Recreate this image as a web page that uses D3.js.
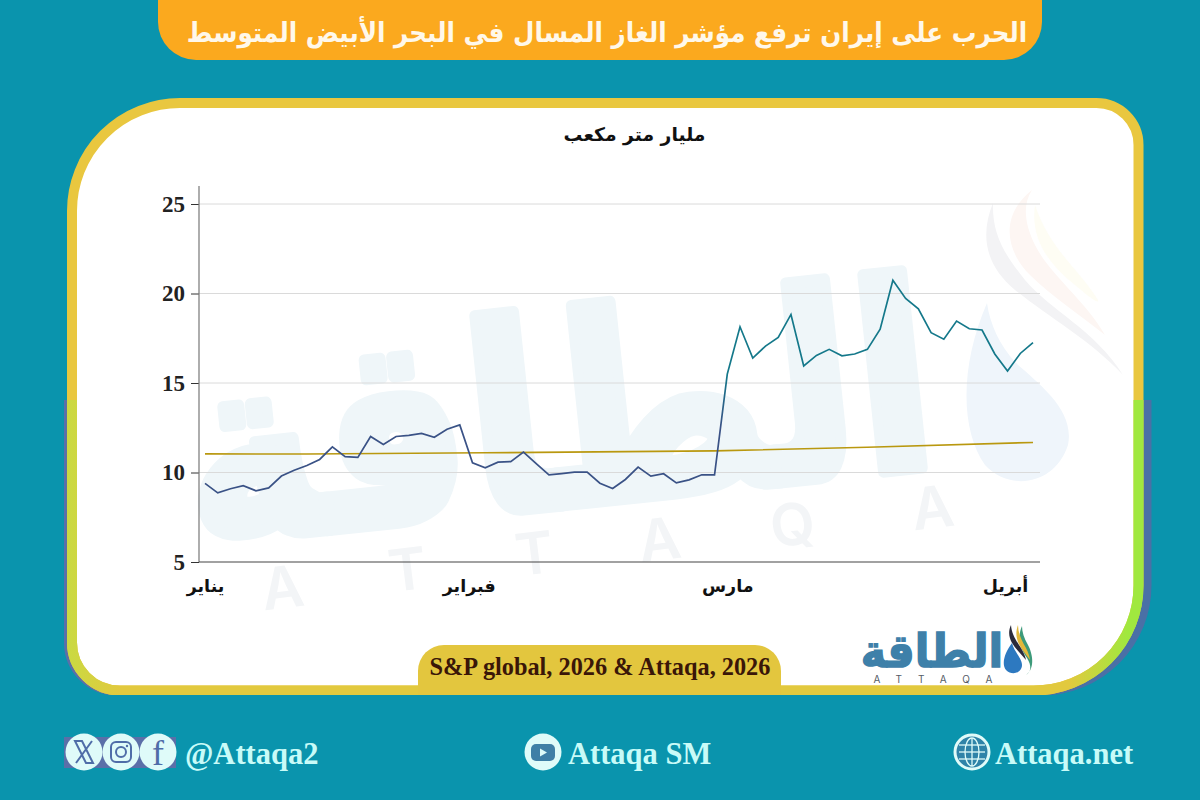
<!DOCTYPE html>
<html lang="ar">
<head>
<meta charset="utf-8">
<script src="https://cdn.jsdelivr.net/npm/d3@7"></script>
<style>
  html, body { margin: 0; padding: 0; background: #0a94ad; }
  svg { display: block; }
  .ar { font-family: "DejaVu Sans", sans-serif; font-weight: bold; }
  .lat { font-family: "Liberation Serif", serif; font-weight: bold; }
</style>
</head>
<body>
<div id="chart"></div>
<script>
///// DATOS /////
let titleText = 'الحرب على إيران ترفع مؤشر الغاز المسال في البحر الأبيض المتوسط';
let unitText = 'مليار متر مكعب';
let sourceText = 'S&P global, 2026 & Attaqa, 2026';

let yTicks = [5, 10, 15, 20, 25];
let monthLabels = ['يناير', 'فبراير', 'مارس', 'أبريل'];
let monthIndex = [0, 20.7, 41, 62.8];

let priceValues = [
  9.39, 8.86, 9.09, 9.26, 8.98, 9.14, 9.80, 10.13, 10.39, 10.73, 11.43,
  10.89, 10.84, 12.01, 11.56, 12.01, 12.07, 12.18, 11.97, 12.42, 12.66,
  10.54, 10.26, 10.58, 10.61, 11.14, 10.50, 9.87, 9.94, 10.02, 10.02,
  9.40, 9.11, 9.61, 10.30, 9.80, 9.93, 9.42, 9.59, 9.87, 9.87,
  15.50, 18.14, 16.39, 17.06, 17.55, 18.83, 15.95, 16.54, 16.88, 16.52,
  16.62, 16.88, 18.01, 20.74, 19.72, 19.14, 17.81, 17.45, 18.46, 18.03,
  17.96, 16.62, 15.67, 16.65, 17.25
];
let trendIndex = [0, 8, 22, 40, 52, 65];
let trendValues = [11.04, 11.03, 11.10, 11.21, 11.41, 11.68];

let watermarkLetters = ['A', 'T', 'T', 'A', 'Q', 'A'];
let watermarkX = [285, 410, 537, 662, 795, 935];
let watermarkY = [608, 590, 574, 560, 545, 528];

///// LIENZO /////
let svg = d3.select('#chart').append('svg').attr('width', 1200).attr('height', 800);
let defs = svg.append('defs');

// panel con esquinas distintas
function panelPath(x0, y0, x1, y1, tl, tr, br, bl) {
    let p = d3.path();
    p.moveTo(x0 + tl, y0);
    p.lineTo(x1 - tr, y0);
    p.arcTo(x1, y0, x1, y0 + tr, tr);
    p.lineTo(x1, y1 - br);
    p.arcTo(x1, y1, x1 - br, y1, br);
    p.lineTo(x0 + bl, y1);
    p.arcTo(x0, y1, x0, y1 - bl, bl);
    p.lineTo(x0, y0 + tl);
    p.arcTo(x0, y0, x0 + tl, y0, tl);
    p.closePath();
    return p.toString();
}
let panel = panelPath(72, 103, 1138.5, 690.5, 108, 42, 105, 48);

defs.append('clipPath').attr('id', 'lowerHalf').append('rect')
    .attr('x', 0).attr('y', 400).attr('width', 1200).attr('height', 400);

let borderGrad = defs.append('linearGradient').attr('id', 'borderLower')
    .attr('gradientUnits', 'userSpaceOnUse')
    .attr('x1', 67).attr('x2', 1144).attr('y1', 0).attr('y2', 0);
borderGrad.append('stop').attr('offset', 0).attr('stop-color', '#c9da42');
borderGrad.append('stop').attr('offset', 0.05).attr('stop-color', '#e2c93e');
borderGrad.append('stop').attr('offset', 0.93).attr('stop-color', '#e2c93e');
borderGrad.append('stop').attr('offset', 0.985).attr('stop-color', '#a0e83f');

// halo azul de la mitad inferior
let halo = svg.append('g').attr('clip-path', 'url(#lowerHalf)');
halo.append('path').attr('d', panel).attr('transform', 'translate(-3,0)')
    .attr('fill', 'none').attr('stroke', '#5b6fa8').attr('stroke-width', 10);
halo.append('path').attr('d', panel).attr('transform', 'translate(8,0)')
    .attr('fill', 'none').attr('stroke', '#4a70a6').attr('stroke-width', 10);

svg.append('path').attr('d', panel).attr('fill', '#fff')
    .attr('stroke', '#e9c73f').attr('stroke-width', 10);
svg.append('path').attr('d', panel).attr('fill', 'none')
    .attr('stroke', 'url(#borderLower)').attr('stroke-width', 10)
    .attr('clip-path', 'url(#lowerHalf)');

///// MARCA DE AGUA /////
let wm = svg.append('g');
wm.append('text').attr('class', 'ar')
    .attr('transform', 'translate(567,505) rotate(-6) scale(0.87,1)')
    .attr('text-anchor', 'middle').attr('font-size', 260)
    .attr('fill', '#eff6f9').attr('stroke', '#eff6f9').attr('stroke-width', 12)
    .attr('stroke-linejoin', 'round').text('الطاقة');
watermarkLetters.forEach(function(d, i) {
    wm.append('text')
        .attr('transform', 'translate(' + watermarkX[i] + ',' + watermarkY[i] + ') rotate(-7)')
        .attr('text-anchor', 'middle')
        .attr('font-family', 'Inter, sans-serif').attr('font-weight', 600).attr('font-size', 58)
        .attr('fill', '#f3f5f7').text(d);
});
// llama y gota
wm.append('path').attr('fill', '#eff5fb')
    .attr('d', 'M987,303C960,365 960,430 985,465C1010,492 1055,485 1068,445C1075,410 1040,385 1015,362C1000,345 990,325 987,303Z');
wm.append('path').attr('fill', '#f3f3f5')
    .attr('d', 'M993,203C980,235 985,265 1015,290C1050,318 1090,340 1123,375C1095,330 1050,310 1025,280C1005,255 992,235 993,203Z');
wm.append('path').attr('fill', '#fdf6f3')
    .attr('d', 'M1032,190C1000,215 1005,250 1030,275C1050,295 1080,315 1105,335C1085,300 1050,275 1035,245C1025,225 1022,205 1032,190Z');
wm.append('path').attr('fill', '#fefdf4')
    .attr('d', 'M1035,205C1030,240 1050,265 1075,285C1090,298 1100,305 1098,300C1080,270 1050,250 1035,205Z');

///// GRÁFICO /////
let x_c = d3.scaleLinear().domain([0, priceValues.length - 1]).range([205, 1033]);
let y_c = d3.scaleLinear().domain([5, 25]).range([562, 204]);

// rejilla
svg.append('g').selectAll('line')
    .data(yTicks.slice(1))
    .enter().append('line')
    .attr('x1', 199).attr('x2', 1040)
    .attr('y1', function(d) { return y_c(d); })
    .attr('y2', function(d) { return y_c(d); })
    .attr('stroke', '#dadada').attr('stroke-width', 1);

let yAxis = svg.append('g').attr('transform', 'translate(199,0)')
    .call(d3.axisLeft(y_c).tickValues(yTicks).tickSize(8).tickPadding(6).tickFormat(d3.format('d')));
yAxis.select('.domain').remove();
yAxis.selectAll('.tick line').attr('stroke', '#333');
yAxis.selectAll('text').attr('class', 'lat').attr('font-size', 23).attr('fill', '#222');
yAxis.append('line').attr('y1', 186).attr('y2', 562).attr('stroke', '#777').attr('stroke-width', 1.2);

let xAxis = svg.append('g').attr('transform', 'translate(0,562)')
    .call(d3.axisBottom(x_c).tickValues(monthIndex).tickSize(0).tickPadding(18)
        .tickFormat(function(d, i) { return monthLabels[i]; }));
xAxis.select('.domain').remove();
xAxis.selectAll('text').attr('class', 'ar').attr('font-size', 17.5).attr('fill', '#111');
xAxis.append('line').attr('x1', 199).attr('x2', 1040).attr('stroke', '#444').attr('stroke-width', 1.2);

// degradado azul a verde azulado en la subida de marzo
let lineGrad = defs.append('linearGradient').attr('id', 'lineGrad')
    .attr('gradientUnits', 'userSpaceOnUse')
    .attr('x1', 0).attr('x2', 0).attr('y1', y_c(12.5)).attr('y2', y_c(15.5));
lineGrad.append('stop').attr('offset', 0).attr('stop-color', '#3a5286');
lineGrad.append('stop').attr('offset', 1).attr('stop-color', '#14788a');

let line = d3.line()
    .x(function(d) { return x_c(d[0]); })
    .y(function(d) { return y_c(d[1]); });

svg.append('path')
    .attr('d', line(trendIndex.map(function(d, i) { return [d, trendValues[i]]; })))
    .attr('fill', 'none').attr('stroke', '#b9980f').attr('stroke-width', 1.6);
svg.append('path')
    .attr('d', line(priceValues.map(function(d, i) { return [i, d]; })))
    .attr('fill', 'none').attr('stroke', 'url(#lineGrad)').attr('stroke-width', 1.7);

svg.append('text').attr('class', 'ar').attr('x', 634.5).attr('y', 141)
    .attr('text-anchor', 'middle').attr('font-size', 18.8).attr('fill', '#111').text(unitText);

///// CABECERA /////
svg.append('path').attr('d', panelPath(158, -60, 1042, 60, 0, 0, 38, 38)).attr('fill', '#fba91e');
svg.append('text').attr('class', 'ar')
    .attr('transform', 'translate(607,42) scale(0.9,1)')
    .attr('text-anchor', 'middle').attr('font-size', 27.4).attr('fill', '#fff8ea').text(titleText);

///// FUENTE /////
svg.append('path').attr('d', panelPath(418, 645, 781, 700, 26, 26, 0, 0)).attr('fill', '#e3c63e');
svg.append('rect').attr('x', 0).attr('y', 695).attr('width', 1200).attr('height', 10).attr('fill', '#0a94ad');
svg.append('text').attr('class', 'lat').attr('x', 600).attr('y', 675)
    .attr('text-anchor', 'middle').attr('font-size', 24.3).attr('fill', '#3a1608').text(sourceText);

///// LOGO /////
let logo = svg.append('g');
logo.append('text').attr('class', 'ar')
    .attr('transform', 'translate(932,667) scale(0.93,1)')
    .attr('text-anchor', 'middle').attr('font-size', 46).attr('fill', '#3e80a9')
    .attr('stroke', '#3e80a9').attr('stroke-width', 1.5).text('الطاقة');
logo.append('text').attr('x', 941).attr('y', 682.5)
    .attr('text-anchor', 'middle').attr('font-family', 'Inter, sans-serif')
    .attr('font-size', 10).attr('letter-spacing', 16).attr('fill', '#555c66').text('ATTAQA');
logo.append('path').attr('fill', '#3d9a7a')
    .attr('d', 'M1022,626C1016,640 1022,650 1027,658C1032,666 1031,672 1026,675C1036,668 1032,652 1028,645C1024,638 1022,632 1022,626Z');
logo.append('path').attr('fill', '#e3b83a')
    .attr('d', 'M1018,625C1014,636 1018,644 1024,652L1030,660C1029,648 1018,640 1018,625Z');
logo.append('path').attr('fill', '#2b2b3a')
    .attr('d', 'M1011,625C1006,636 1012,644 1019,652L1026,660C1024,648 1012,640 1011,625Z');
logo.append('path').attr('fill', '#2d79c0')
    .attr('d', 'M1012,643C1005,652 1001,664 1006,670C1012,676 1022,673 1022,665C1022,658 1014,652 1012,643Z');

///// PIE /////
let footBg = '#dffbf9', iconColor = '#4f6da8', footText = '#c8fbf8';

svg.append('rect').attr('x', 64).attr('y', 737).attr('width', 112).attr('height', 31).attr('fill', '#5b6fa8');
[84, 121, 158].forEach(function(cx) {
    svg.append('circle').attr('cx', cx).attr('cy', 752).attr('r', 18.5).attr('fill', footBg);
});
// X
svg.append('path').attr('fill', 'none').attr('stroke', iconColor).attr('stroke-width', 2)
    .attr('d', 'M75,741L82,741L93,763L86,763ZM92,741L76,763');
// Instagram
svg.append('rect').attr('x', 111).attr('y', 742).attr('width', 20).attr('height', 20).attr('rx', 5)
    .attr('fill', 'none').attr('stroke', iconColor).attr('stroke-width', 2);
svg.append('circle').attr('cx', 121).attr('cy', 752).attr('r', 5)
    .attr('fill', 'none').attr('stroke', iconColor).attr('stroke-width', 2);
svg.append('circle').attr('cx', 127).attr('cy', 746).attr('r', 1.2).attr('fill', iconColor);
// Facebook
svg.append('text').attr('x', 158).attr('y', 765)
    .attr('font-family', '"Liberation Serif", serif')
    .attr('text-anchor', 'middle').attr('font-size', 36).attr('fill', iconColor).text('f');

svg.append('text').attr('class', 'lat').attr('x', 185).attr('y', 764)
    .attr('font-size', 30.5).attr('fill', footText).text('@Attaqa2');

// YouTube
svg.append('circle').attr('cx', 543).attr('cy', 752).attr('r', 18.5).attr('fill', footBg);
svg.append('rect').attr('x', 531).attr('y', 744).attr('width', 24).attr('height', 17).attr('rx', 5).attr('fill', '#3f7fa6');
svg.append('path').attr('d', 'M540,748.5L547,752.5L540,756.5Z').attr('fill', footBg);
svg.append('text').attr('class', 'lat').attr('x', 568).attr('y', 764)
    .attr('font-size', 30.5).attr('fill', footText).text('Attaqa SM');

// Globo
svg.append('circle').attr('cx', 972).attr('cy', 752).attr('r', 17).attr('fill', '#2f83a8')
    .attr('stroke', footBg).attr('stroke-width', 3);
svg.append('ellipse').attr('cx', 972).attr('cy', 752).attr('rx', 7).attr('ry', 14)
    .attr('fill', 'none').attr('stroke', footBg).attr('stroke-width', 1.3);
[745, 752, 759].forEach(function(yy) {
    svg.append('line').attr('x1', 959).attr('x2', 985).attr('y1', yy).attr('y2', yy)
        .attr('stroke', footBg).attr('stroke-width', 1.3);
});
svg.append('line').attr('x1', 972).attr('x2', 972).attr('y1', 738).attr('y2', 766)
    .attr('stroke', footBg).attr('stroke-width', 1.3);
svg.append('text').attr('class', 'lat').attr('x', 995).attr('y', 764)
    .attr('font-size', 30.5).attr('fill', footText).text('Attaqa.net');
</script>
</body>
</html>
